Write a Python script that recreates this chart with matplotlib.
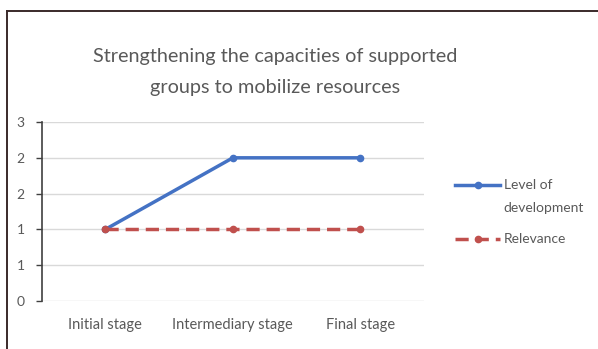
import matplotlib
matplotlib.use("Agg")
import matplotlib.pyplot as plt
from matplotlib.lines import Line2D

plt.rcParams['font.family'] = ['Lato', 'DejaVu Sans']

# Data
stages = ["Initial stage", "Intermediary stage", "Final stage"]
level_of_development = [1, 2, 2]
relevance = [1, 1, 1]
y_ticks = [0, 0.5, 1.0, 1.5, 2.0, 2.5]
y_tick_labels = ["0", "1", "1", "2", "2", "3"]
title = "Strengthening the capacities of supported\ngroups to mobilize resources"
series_names = ["Level of\ndevelopment", "Relevance"]

text_color = "#595959"
blue = "#4472C4"
red = "#C0504D"
dash = (0, (3.8, 2.0))

fig = plt.figure(figsize=(5.98, 3.49), dpi=100)
fig.patch.set_facecolor("white")
ax = fig.add_axes([0.0694, 0.1375, 0.640, 0.5129])

x = list(range(len(stages)))
ax.plot(x, level_of_development, color=blue, lw=2.5, marker="o", ms=4.5,
        solid_capstyle="round", zorder=3)
ax.plot(x, relevance, color=red, lw=2.5, ls=dash, marker="o", ms=4.5, zorder=3)

ax.set_xlim(-0.5, 2.5)
ax.set_ylim(0, 2.5)
ax.set_yticks(y_ticks)
ax.set_yticklabels(y_tick_labels)
ax.set_xticks(x)
ax.set_xticklabels(stages)

ax.grid(axis="y", color="#D9D9D9", lw=1.0)
ax.set_axisbelow(True)
for s in ["top", "right", "bottom"]:
    ax.spines[s].set_visible(False)
ax.spines["left"].set_color("#404040")
ax.spines["left"].set_linewidth(1.2)
ax.tick_params(axis="y", colors="#404040", labelcolor=text_color, labelsize=10,
               length=4, width=1.0, direction="out", pad=8)
ax.tick_params(axis="x", length=0, labelcolor=text_color, labelsize=10.5, pad=12)

fig.text(0.46, 0.794, title, ha="center", va="center", fontsize=14.3,
         color=text_color, linespacing=1.95)

# Legend entries, handle aligned with the first line of each label
legend_rows = [(0.470, blue, "-"), (0.315, red, dash)]
for (ly, col, style), name in zip(legend_rows, series_names):
    fig.add_artist(Line2D([0.761, 0.836], [ly, ly], transform=fig.transFigure,
                          color=col, lw=2.5, ls=style))
    fig.add_artist(Line2D([0.799], [ly], transform=fig.transFigure, color=col,
                          marker="o", ms=4.5, ls="none"))
    fig.text(0.842, ly + 0.016, name, ha="left", va="top", fontsize=10,
             color=text_color, linespacing=2.1, transform=fig.transFigure)

# Outer frame on the left and top edges
fig.add_artist(Line2D([0.0109, 0.0109], [0.0, 0.968], transform=fig.transFigure,
                      color="#3a2a2a", lw=1.4))
fig.add_artist(Line2D([0.0109, 1.0], [0.968, 0.968], transform=fig.transFigure,
                      color="#3a2a2a", lw=1.4))

fig.savefig("out.png", dpi=100)
